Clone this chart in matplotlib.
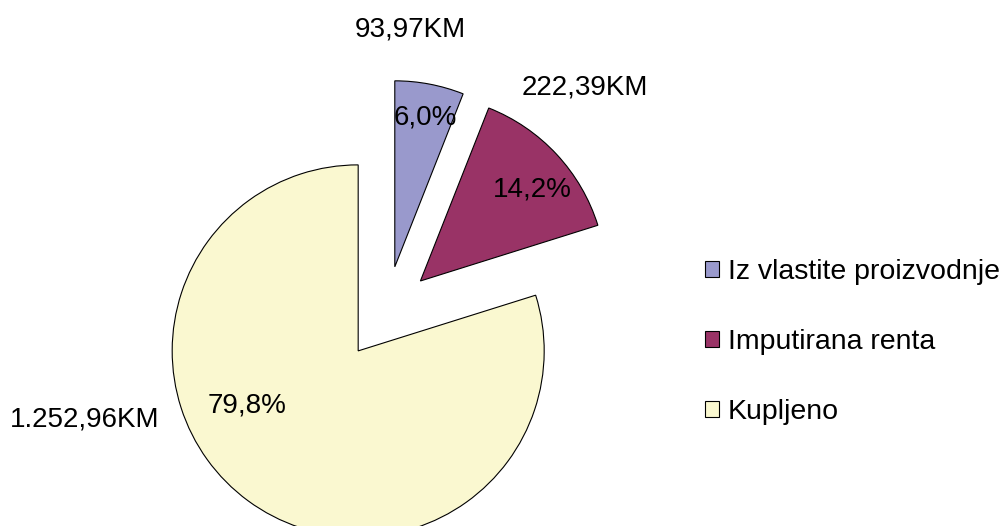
import matplotlib
matplotlib.use('Agg')
import matplotlib.pyplot as plt
from matplotlib.patches import Patch

plt.rcParams['font.family'] = ['Liberation Sans', 'DejaVu Sans']

categories = ['Iz vlastite proizvodnje', 'Imputirana renta', 'Kupljeno']
values = [93.97, 222.39, 1252.96]
value_labels = ['93,97KM', '222,39KM', '1.252,96KM']
colors = ['#9999CC', '#993366', '#FAF8D0']

# label positions (pixel coords, y up)
pct_pos = [(425, 409), (532, 336), (247, 121)]
val_pos = [(410, 496), (585, 438), (85, 106)]

fig = plt.figure(figsize=(10, 5.26), dpi=100)
ax = fig.add_axes([0, 0, 1, 1])

wedges, texts, autotexts = ax.pie(
    values, colors=colors, startangle=90, counterclock=False,
    center=(386, 213), radius=186, explode=[47, 47, 47],
    labels=value_labels,
    autopct=lambda p: ('%.1f%%' % p).replace('.', ','),
    wedgeprops=dict(edgecolor='black', linewidth=0.8),
    textprops=dict(fontsize=20, color='black'))

for t, pos in zip(autotexts, pct_pos):
    t.set_position(pos)
    t.set_ha('center')
    t.set_va('center')
for t, pos in zip(texts, val_pos):
    t.set_position(pos)
    t.set_ha('center')
    t.set_va('center')

ax.set_xlim(0, 1000)
ax.set_ylim(0, 526)
ax.set_aspect('equal')
ax.axis('off')

handles = [Patch(facecolor=c, edgecolor='black', linewidth=0.8) for c in colors]
fig.legend(handles, categories, loc='center left',
           bbox_to_anchor=(0.705, (526 - 342) / 526),
           frameon=False, fontsize=20.5, borderpad=0, borderaxespad=0,
           handlelength=0.5, handleheight=0.5, handletextpad=0.3,
           labelspacing=1.55)

fig.savefig('out.png', dpi=100)
